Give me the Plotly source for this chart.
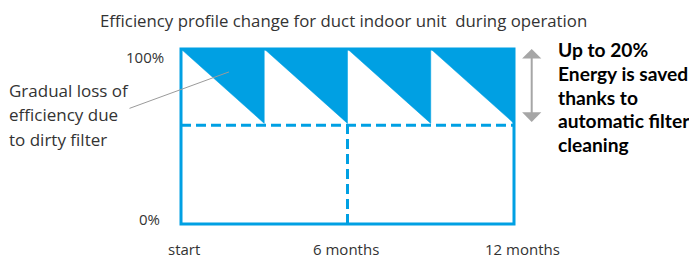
import plotly.graph_objects as go

# ---- data ----
cycle_start = [0, 3, 6, 9]          # months: filter cleaned
cycle_end = [3, 6, 9, 12]           # months: before next cleaning
eff_clean = [100, 100, 100, 100]    # % efficiency right after cleaning
eff_dirty = [57.5, 57.5, 57.5, 57.5]  # % efficiency with dirty filter
dashed_level = 56.5                 # % reference level (dashed)
mid_month = 6
x_ticks = [0, 6, 12]
x_labels = ["start", "6 months", "12 months"]
y_ticks = [0, 100]
y_labels = ["0%", "100%"]
left_note = ["Gradual loss of", "efficiency due", "to dirty filter"]
right_note = ["Up to 20%", "Energy is saved", "thanks to", "automatic filter", "cleaning"]
title_text = "Efficiency profile change for duct indoor unit  during operation"

# ---- style ----
BLUE = "#00A0E3"
GREY = "#A6A6A6"
FONT = "Open Sans"
BOLD_FONT = "Lato"
OFF = 8                      # page body margin
W, H = 697 - OFF, 258 - OFF
PX0, PX1, PY0, PY1 = 181, 514, 49, 224   # plot area in window pixels
L, T = PX0 - OFF, PY0 - OFF
R, B = W - (PX1 - OFF), H - (PY1 - OFF)
pw, ph = PX1 - PX0, PY1 - PY0
Y_RANGE = [0, 100]


def px(X):
    return (X - PX0) / pw


def py(Y):
    return (PY1 - Y) / ph


fig = go.Figure()
for x0, x1, e0, e1 in zip(cycle_start, cycle_end, eff_clean, eff_dirty):
    fig.add_trace(go.Scatter(
        x=[x0, x1, x1, x0], y=[e0, e0, e1, e0], mode="lines",
        fill="toself", fillcolor=BLUE, line=dict(color=BLUE, width=0.5),
        hoverinfo="skip", showlegend=False))

fig.add_trace(go.Scatter(
    x=[cycle_start[0], cycle_end[-1]], y=[dashed_level, dashed_level], mode="lines",
    line=dict(color=BLUE, width=3, dash="10px,5px"), hoverinfo="skip", showlegend=False))
fig.add_trace(go.Scatter(
    x=[mid_month, mid_month], y=[0, dashed_level], mode="lines",
    line=dict(color=BLUE, width=3, dash="10px,5px"), hoverinfo="skip", showlegend=False))

fig.add_shape(type="rect", xref="paper", yref="paper", x0=0, x1=1, y0=0, y1=1,
              line=dict(color=BLUE, width=3), layer="above")

ann = []
# title
ann.append(dict(text=title_text, xref="paper", yref="paper",
                x=px(343), y=py(20), xanchor="center", yanchor="middle",
                showarrow=False, font=dict(family=FONT, size=16.8, color="#333333")))
# x labels
x_shift = [3, -2, 8]
for v, lab, s in zip(x_ticks, x_labels, x_shift):
    ann.append(dict(text=lab, xref="x", yref="paper", x=v, y=0, xanchor="center",
                    yanchor="middle", xshift=s, yshift=-25, showarrow=False,
                    font=dict(family=FONT, size=15, color="#333333")))
# y labels
y_shift = [(-19, 5), (-15, -7.5)]
for v, lab, (sx, sy) in zip(y_ticks, y_labels, y_shift):
    ann.append(dict(text=lab, xref="paper", yref="y", x=0, y=v, xanchor="right",
                    yanchor="middle", xshift=sx, yshift=sy, showarrow=False,
                    font=dict(family=FONT, size=15, color="#333333")))
# left note
for i, line in enumerate(left_note):
    yc = 90 + 24.5 * i
    ann.append(dict(text=line, xref="paper", yref="paper", x=px(7),
                    y=py(yc), xanchor="left", yanchor="middle",
                    showarrow=False, font=dict(family=FONT, size=17, color="#333333")))
# right note
for i, line in enumerate(right_note):
    yc = 50 + 23.5 * i
    ann.append(dict(text="<b>" + line + "</b>", xref="paper", yref="paper",
                    x=px(556), y=py(yc), xanchor="left", yanchor="middle",
                    showarrow=False, font=dict(family=BOLD_FONT, size=19.2, color="#000000")))
# leader line
ann.append(dict(text="", xref="x", yref="y", x=1.73, y=86.9, ax=-101, ay=37,
                showarrow=True, arrowhead=0, arrowwidth=1, arrowcolor="#9B9B9B"))
# double arrow showing the saving
drop_px = (eff_clean[-1] - eff_dirty[-1]) * ph / (Y_RANGE[1] - Y_RANGE[0])
ann.append(dict(text="", xref="paper", yref="y", x=px(531.7), y=eff_clean[-1],
                axref="pixel", ayref="pixel", ax=0, ay=drop_px,
                showarrow=True, arrowhead=1, arrowside="end+start",
                arrowsize=1.6, arrowwidth=2, arrowcolor=GREY))

fig.update_layout(
    width=W, height=H, margin=dict(l=L, r=R, t=T, b=B),
    paper_bgcolor="white", plot_bgcolor="white",
    xaxis=dict(range=[0, 12], visible=False, fixedrange=True),
    yaxis=dict(range=Y_RANGE, visible=False, fixedrange=True),
    annotations=ann, showlegend=False,
)
fig.write_html("out.html")
